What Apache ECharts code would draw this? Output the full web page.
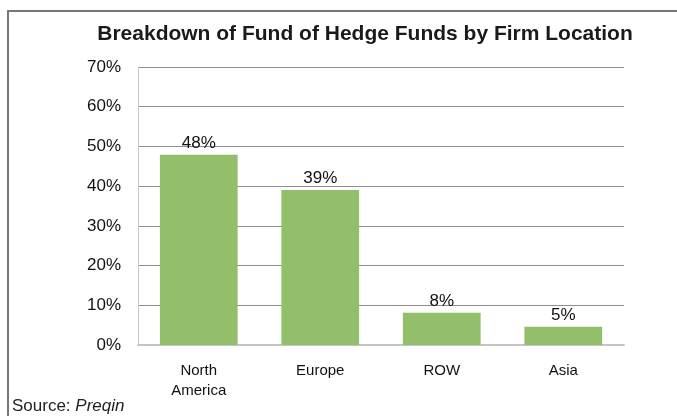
<!DOCTYPE html>
<html>
<head>
<meta charset="utf-8">
<title>Breakdown of Fund of Hedge Funds by Firm Location</title>
<script src="https://cdn.jsdelivr.net/npm/echarts@6/dist/echarts.min.js"></script>
<style>
    html, body { margin: 0; padding: 0; background: #fff; }
    #chart { width: 677px; height: 416px; }
</style>
</head>
<body>
<div id="chart"></div>
<script>
    var categories = ['North\nAmerica', 'Europe', 'ROW', 'Asia'];
    var shares = [47.9, 39, 8.1, 4.6];
    var yTicks = [0, 10, 20, 30, 40, 50, 60, 70];

    var chart = echarts.init(document.getElementById('chart'));
    var font = '"Liberation Sans", Arial, sans-serif';

    var option = {
        animation: false,
        title: {
            text: 'Breakdown of Fund of Hedge Funds by Firm Location',
            left: 360,
            textAlign: 'center',
            top: 19,
            textStyle: { fontFamily: font, fontSize: 21, fontWeight: 'bold', color: '#1a1a1a' }
        },
        grid: { left: 138, right: 53, top: 67, bottom: 71 },
        xAxis: {
            type: 'category',
            data: categories,
            axisTick: { show: false },
            axisLine: { lineStyle: { color: '#c4c4c4', width: 2 } },
            axisLabel: { fontFamily: font, fontSize: 15, color: '#111', margin: 16, lineHeight: 20 }
        },
        yAxis: {
            type: 'value',
            min: yTicks[0],
            max: yTicks[yTicks.length - 1],
            interval: 10,
            axisLine: { show: true, lineStyle: { color: '#c8c8c8' } },
            axisTick: { show: false },
            splitLine: { lineStyle: { color: '#8e8e8e' } },
            axisLabel: { fontFamily: font, fontSize: 17, color: '#111', margin: 17, formatter: '{value}%' }
        },
        series: [{
            type: 'bar',
            data: shares,
            barWidth: '64%',
            itemStyle: { color: '#93bf6a' },
            label: {
                show: true,
                position: 'top',
                distance: 3,
                fontFamily: font,
                fontSize: 17,
                color: '#111',
                formatter: function (p) { return Math.round(p.value) + '%'; }
            }
        }],
        graphic: [
            {
                type: 'polyline',
                shape: { points: [[8, 416], [8, 11], [677, 11]] },
                style: { stroke: '#777', lineWidth: 2, fill: null }
            },
            {
                type: 'text',
                left: 12,
                top: 398,
                style: {
                    text: '{n|Source: }{i|Preqin}',
                    rich: {
                        n: { fontFamily: font, fontSize: 17, fill: '#222' },
                        i: { fontFamily: font, fontSize: 17, fontStyle: 'italic', fill: '#222' }
                    }
                }
            }
        ]
    };
    chart.setOption(option);
</script>
</body>
</html>
